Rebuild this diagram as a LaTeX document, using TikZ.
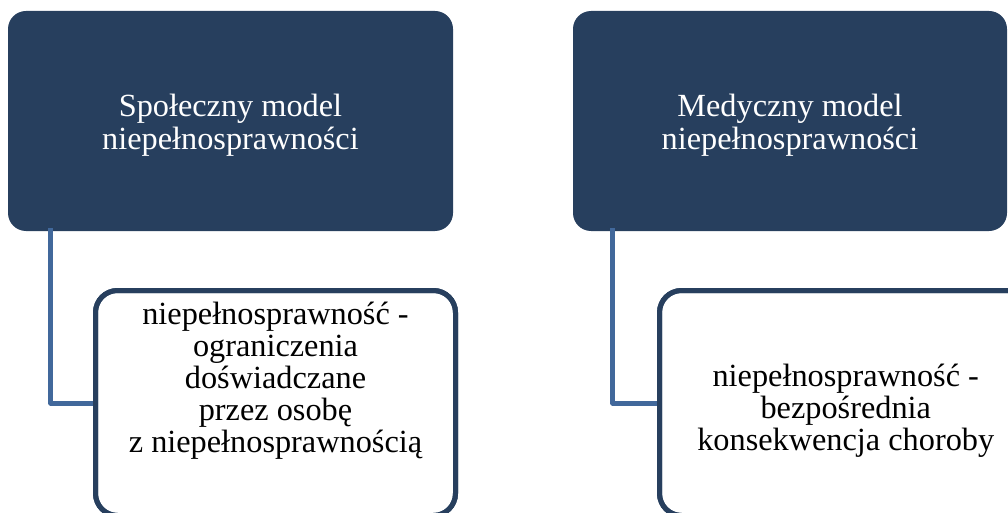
\documentclass[tikz,border=0pt]{standalone}
\usepackage{fontspec}
\setmainfont{Liberation Serif}
\usetikzlibrary{calc}
\definecolor{navy}{RGB}{39,63,94}
\definecolor{linkblue}{RGB}{65,104,155}
\begin{document}
\begin{tikzpicture}[x=1pt,y=-1pt,
  headbox/.style={fill=navy, rounded corners=18pt, inner sep=0pt},
  headtext/.style={text=white, align=center, font=\fontsize{32.3}{33}\selectfont, inner sep=0pt},
  itembox/.style={draw=navy, line width=5pt, fill=white, rounded corners=22pt, inner sep=0pt},
  itemtext/.style={align=center, font=\fontsize{32.3}{32}\selectfont, inner sep=0pt},
  link/.style={draw=linkblue, line width=5pt, line join=round}]
\useasboundingbox (0,0) rectangle (1008,513);

% header boxes
\node[headbox, minimum width=445pt, minimum height=220pt] (h1) at (230.5,121) {};
\node[headbox, minimum width=434pt, minimum height=220pt] (h2) at (790,121) {};
\node[headtext] (ht1) at ($(h1.center)+(0,4)$) {Społeczny model\\niepełnosprawności};
\node[headtext] (ht2) at ($(h2.center)+(0,4)$) {Medyczny model\\niepełnosprawności};

% start points of the connectors, just under each header
\coordinate (s1) at ($(h1.south west)+(43,-3)$);
\coordinate (s2) at ($(h2.south west)+(40,-3)$);

% item boxes
\node[itembox, minimum width=360pt, minimum height=225pt] (i1) at (275.5,403) {};
\node[itembox, minimum width=372.5pt, minimum height=225pt] (i2) at (845.75,403) {};

% elbow connectors
\draw[link] (s1) |- (i1.west);
\draw[link] (s2) |- (i2.west);
% item borders drawn again on top of the connector ends
\node[itembox, minimum width=360pt, minimum height=225pt, fill=none] at (i1.center) {};
\node[itembox, minimum width=372.5pt, minimum height=225pt, fill=none] at (i2.center) {};

% item texts
\node[itemtext] (it1) at ($(i1.center)+(0,-22)$)
  {niepełnosprawność -\\ograniczenia\\doświadczane\\przez osobę\\z niepełnosprawnością};
\node[itemtext] (it2) at ($(i2.center)+(0,8)$)
  {niepełnosprawność -\\bezpośrednia\\konsekwencja choroby};
\end{tikzpicture}
\end{document}
